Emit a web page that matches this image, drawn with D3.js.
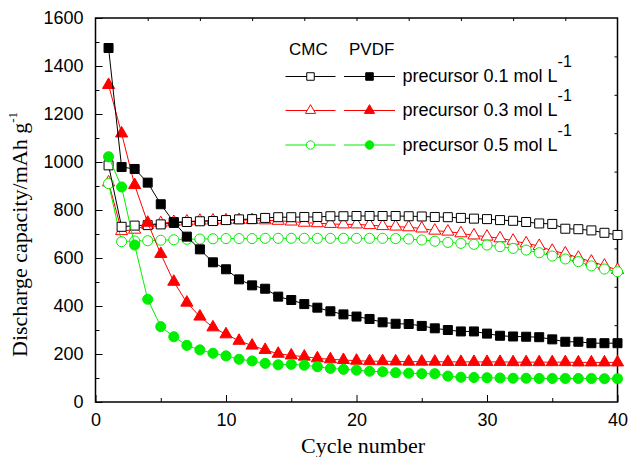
<!DOCTYPE html>
<html>
<head>
<meta charset="utf-8">
<script src="https://cdn.jsdelivr.net/npm/d3@7"></script>
<style>
  body { margin: 0; background: #fff; }
  svg { display: block; }
</style>
</head>
<body>
<script>
// cycle index (x)
var cycles = [1,2,3,4,5,6,7,8,9,10,11,12,13,14,15,16,17,18,19,20,
              21,22,23,24,25,26,27,28,29,30,31,32,33,34,35,36,37,38,39,40];

// CMC binder (open markers)
var cmc01 = [986,730,735,737,740,746,750,753,754,758,761,762,767,770,770,771,771,774,774,775,
             775,775,775,774,773,771,770,767,764,762,758,755,750,744,742,722,720,715,705,696];
var cmc03 = [915,712,718,738,745,750,752,755,756,757,758,758,757,755,752,747,745,742,740,740,
             737,733,731,728,723,714,710,703,694,689,682,672,661,650,630,619,601,585,568,550];
var cmc05 = [910,668,671,672,674,676,678,679,680,681,681,681,682,682,682,682,682,682,682,682,
             682,682,681,679,675,670,665,661,657,654,647,640,633,622,608,596,585,567,554,543];

// PVDF binder (filled markers)
var pvdf01 = [1475,979,971,914,824,750,689,636,582,553,511,486,472,439,425,408,393,378,365,356,
              346,332,326,325,317,307,300,294,294,285,276,273,272,270,261,251,251,245,245,245];
var pvdf03 = [1321,1119,904,747,617,501,414,356,311,282,255,235,217,201,194,189,182,178,175,172,
              170,170,169,168,168,168,167,167,167,167,167,166,166,166,166,166,165,165,165,165];
var pvdf05 = [1022,896,654,428,314,272,236,217,203,192,178,171,161,155,157,153,147,140,136,133,
              128,126,122,120,118,118,108,103,102,101,100,99,99,98,98,98,98,98,97,97];

var legendLabels = ["precursor 0.1 mol L", "precursor 0.3 mol L", "precursor 0.5 mol L"];
var xTicks = [0, 10, 20, 30, 40];
var yTicks = [0, 200, 400, 600, 800, 1000, 1200, 1400, 1600];

var width = 631, height = 457;
var sans = "'Liberation Sans', Arial, sans-serif";
var serif = "'Liberation Serif', 'Times New Roman', serif";
var GREEN = "#00ee00";

var svg = d3.select("body").append("svg")
    .attr("width", width)
    .attr("height", height);

var x = d3.scaleLinear().domain([0, 40]).range([95.5, 617.5]);
var y = d3.scaleLinear().domain([0, 1600]).range([402, 18]);

// series definitions (drawing order)
var series = [
  {vals: cmc03, color: "red", shape: d3.symbolTriangle, fill: false, row: 1, col: 0},
  {vals: cmc05, color: GREEN, shape: d3.symbolCircle, fill: false, row: 2, col: 0},
  {vals: cmc01, color: "#000", shape: d3.symbolSquare, fill: false, row: 0, col: 0},
  {vals: pvdf03, color: "red", shape: d3.symbolTriangle, fill: true, row: 1, col: 1},
  {vals: pvdf05, color: GREEN, shape: d3.symbolCircle, fill: true, row: 2, col: 1},
  {vals: pvdf01, color: "#000", shape: d3.symbolSquare, fill: true, row: 0, col: 1}
];

function symSize(shape, k) {
  if (shape === d3.symbolSquare) return 81 * k;
  if (shape === d3.symbolCircle) return 80 * k;
  return 64 * k;
}

// axes
var gx = svg.append("g").attr("transform", "translate(0,402)")
    .call(d3.axisBottom(x).tickValues(xTicks).tickSize(-7).tickPadding(11).tickFormat(d3.format("d")));
svg.append("g").attr("transform", "translate(0,402)")
    .call(d3.axisBottom(x).tickValues([5, 15, 25, 35]).tickSize(-4).tickFormat(""));
var gy = svg.append("g").attr("transform", "translate(95.5,0)")
    .call(d3.axisLeft(y).tickValues(yTicks).tickSize(-7).tickPadding(12).tickFormat(d3.format("d")));
svg.append("g").attr("transform", "translate(95.5,0)")
    .call(d3.axisLeft(y).tickValues([100, 300, 500, 700, 900, 1100, 1300, 1500]).tickSize(-4).tickFormat(""));
svg.append("g").attr("transform", "translate(0,18)")
    .call(d3.axisTop(x).tickValues([4, 8, 12, 16, 20, 24, 28, 32, 36]).tickSize(-3).tickFormat(""));
svg.append("g").attr("transform", "translate(617.5,0)")
    .call(d3.axisRight(y).tickValues([160, 320, 480, 640, 800, 960, 1120, 1280, 1440]).tickSize(-3).tickFormat(""));

svg.selectAll(".domain").remove();
svg.selectAll(".tick line").attr("stroke", "#000").attr("stroke-width", 1);
svg.selectAll(".tick text")
    .attr("fill", "#000")
    .style("font-family", sans)
    .style("font-size", "18px");

svg.append("rect")
    .attr("x", 95.5).attr("y", 18)
    .attr("width", 522).attr("height", 384)
    .attr("fill", "none").attr("stroke", "#000").attr("stroke-width", 1.5);

// lines + markers
var line = d3.line().x(function(d, i) { return x(cycles[i]); }).y(function(d) { return y(d); });

series.forEach(function(s) {
  var g = svg.append("g");
  g.append("path")
      .datum(s.vals)
      .attr("d", line)
      .attr("fill", "none")
      .attr("stroke", s.color)
      .attr("stroke-width", 1);
  g.selectAll("path.pt")
    .data(s.vals)
    .join("path")
      .attr("class", "pt")
      .attr("transform", function(d, i) { return "translate(" + x(cycles[i]) + "," + y(d) + ")"; })
      .attr("d", d3.symbol().type(s.shape).size(symSize(s.shape, 1)))
      .attr("fill", s.fill ? s.color : "#fff")
      .attr("stroke", s.color)
      .attr("stroke-width", 1);
});

// legend
var leg = svg.append("g");
leg.append("text").attr("x", 289).attr("y", 55).text("CMC")
    .style("font-family", sans).style("font-size", "17px");
leg.append("text").attr("x", 349).attr("y", 55).text("PVDF")
    .style("font-family", sans).style("font-size", "17px");

var rowY = [76.5, 110.5, 145];
var colX = [[285.5, 335.5], [344, 395]];
series.forEach(function(s) {
  var yy = rowY[s.row], xs = colX[s.col];
  leg.append("line")
      .attr("x1", xs[0]).attr("x2", xs[1])
      .attr("y1", yy).attr("y2", yy)
      .attr("stroke", s.color).attr("stroke-width", 1);
  leg.append("path")
      .attr("transform", "translate(" + (xs[0] + xs[1]) / 2 + "," + yy + ")")
      .attr("d", d3.symbol().type(s.shape).size(symSize(s.shape, 0.7)))
      .attr("fill", s.fill ? s.color : "#fff")
      .attr("stroke", s.color).attr("stroke-width", 1);
});
legendLabels.forEach(function(t, i) {
  var tx = leg.append("text")
      .attr("x", 402.5).attr("y", rowY[i] + 5.5)
      .style("font-family", sans).style("font-size", "18px");
  tx.append("tspan").text(t);
  tx.append("tspan").attr("dy", -15).style("font-size", "16px").text("-1");
});

// axis titles
svg.append("text")
    .attr("x", 363).attr("y", 453)
    .attr("text-anchor", "middle")
    .style("font-family", serif).style("font-size", "22px")
    .text("Cycle number");

var yl = svg.append("text")
    .attr("transform", "translate(27,357) rotate(-90)")
    .style("font-family", serif).style("font-size", "22px");
yl.append("tspan").text("Discharge capacity/mAh g");
yl.append("tspan").attr("dy", -10).style("font-size", "13px").text("-1");
</script>
</body>
</html>
